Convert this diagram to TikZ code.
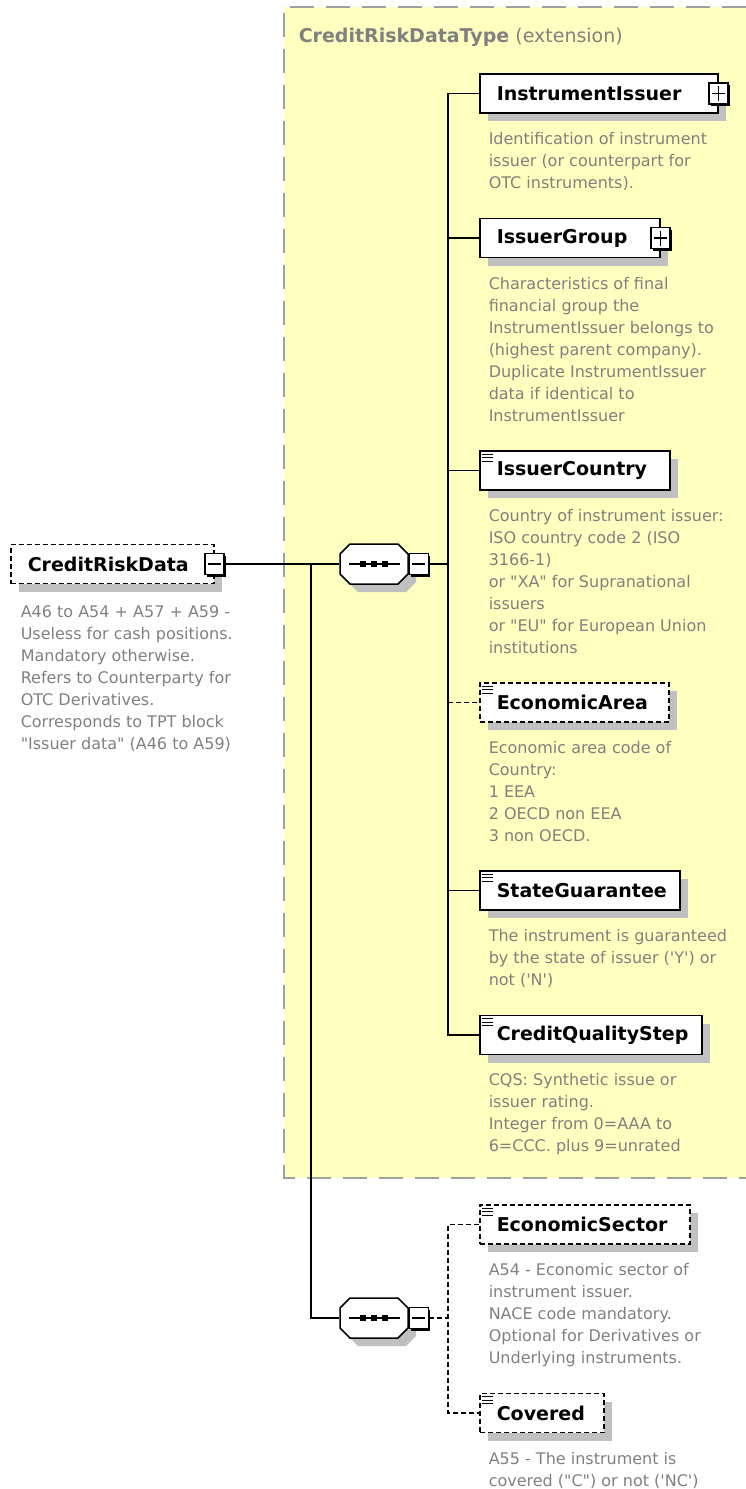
\documentclass[tikz,border=0pt]{standalone}
\usepackage{fontspec}
\setmainfont{DejaVu Sans}
\newfontfamily\descfont{DejaVu Sans}
\usetikzlibrary{positioning,shadows}
\definecolor{extfill}{HTML}{FFFFC0}
\definecolor{extline}{HTML}{A0A0A0}
\definecolor{descgray}{HTML}{808080}
\definecolor{shadowc}{HTML}{C0C0C0}
\newcommand\namefont{\fontsize{19}{22}\selectfont\bfseries}
% sequence compositor: octagon with its shadow, then a named node on top
\newcommand\seqnode[2]{%
  \begin{scope}[shift={#2}]
    \fill[shadowc,shift={(8,8)}] (-24,-20) -- (24,-20) -- (34,-10) -- (34,10) -- (24,20)
      -- (-24,20) -- (-34,10) -- (-34,-10) -- cycle;
    \draw[fill=white] (-24,-20) -- (24,-20) -- (34,-10) -- (34,10) -- (24,20)
      -- (-24,20) -- (-34,10) -- (-34,-10) -- cycle;
    \draw (-25,0) -- (26,0);
    \foreach \dx in {-11,0,11} \fill[black] (\dx-3,-3) rectangle (\dx+3,3);
  \end{scope}
  \node[seqbox] (#1) at #2 {};
}

\begin{document}
\begin{tikzpicture}[x=1pt,y=-1pt,line width=1.5pt,
  shade/.style={drop shadow={shadow xshift=8pt,shadow yshift=-8pt,fill=shadowc,opacity=1,draw=none}},
  el/.style={shade,draw,fill=white,anchor=west,minimum height=39pt,inner xsep=17pt,inner ysep=0pt,
             text width=#1,align=left,font=\namefont},
  optel/.style={el=#1,dash pattern=on 5pt off 3pt},
  simple/.style={path picture={\foreach \k in {3,6.5,10}
      \draw[line width=1pt,solid] ([xshift=2pt,yshift=-\k pt]path picture bounding box.north west) -- ++(11,0);}},
  desc/.style={align=left,inner sep=0pt,text=descgray,font=\descfont\fontsize{16}{22}\selectfont},
  pm/.style={draw,solid,fill=white,line width=1.3pt,minimum width=19pt,minimum height=21pt,inner sep=0pt,
             drop shadow={shadow xshift=2pt,shadow yshift=-2pt,fill=black,opacity=1,draw=none}},
  pmminus/.style={pm,path picture={\draw[line width=1.4pt] ([xshift=3pt]path picture bounding box.west)
      -- ([xshift=-3pt]path picture bounding box.east);}},
  pmplus/.style={pm,path picture={\draw[line width=1.4pt] ([xshift=3pt]path picture bounding box.west)
      -- ([xshift=-3pt]path picture bounding box.east) ([yshift=-3pt]path picture bounding box.north)
      -- ([yshift=3pt]path picture bounding box.south);}},
  seqbox/.style={minimum width=68pt,minimum height=40pt,inner sep=0pt,outer sep=0.75pt},
  opt/.style={dash pattern=on 5pt off 3pt},
]
\useasboundingbox (0,0) rectangle (746,1489);

% extension type box
\fill[extfill] (284,7) rectangle (746,1178);
\draw[extline,line width=2pt,dash pattern=on 24pt off 12pt] (746,7) -- (284,7) -- (284,1178) -- (746,1178);
\node[anchor=west,inner sep=0pt,text=descgray,font=\fontsize{19}{22}\selectfont] (extTitle) at (298,37)
  {\textbf{CreditRiskDataType} (extension)};

% root element
\node[optel=169] (crd) at (10,564) {CreditRiskData};
\node[pmminus] (crdPm) at (crd.east) {};
\node[desc,below right=21pt and 10pt of crd.south west] (crdDesc)
  {A46 to A54 + A57 + A59 -\\Useless for cash positions.\\Mandatory otherwise.\\Refers to Counterparty for\\OTC Derivatives.\\Corresponds to TPT block\\"Issuer data" (A46 to A59)};

% sequences
\seqnode{seqA}{(374,564)}
\node[pmminus,anchor=west] (seqApm) at (seqA.east) {};
\seqnode{seqB}{(374,1318)}
\node[pmminus,anchor=west] (seqBpm) at (seqB.east) {};

% children of the extension
\node[el=204] (iss) at (479,93.5) {InstrumentIssuer};
\node[pmplus] (issPm) at (iss.east) {};
\node[desc,below right=18pt and 9pt of iss.south west] (issDesc)
  {Identification of instrument\\issuer (or counterpart for\\OTC instruments).};

\node[el=146] (grp) at (479,238) {IssuerGroup};
\node[pmplus] (grpPm) at (grp.east) {};
\node[desc,below right=18pt and 9pt of grp.south west] (grpDesc)
  {Characteristics of final\\financial group the\\InstrumentIssuer belongs to\\(highest parent company).\\Duplicate InstrumentIssuer\\data if identical to\\InstrumentIssuer};

\node[el=156,simple] (ctry) at (479,470.5) {IssuerCountry};
\node[desc,below right=18pt and 9pt of ctry.south west] (ctryDesc)
  {Country of instrument issuer:\\ISO country code 2 (ISO\\3166-1)\\or "XA" for Supranational\\issuers\\or "EU" for European Union\\institutions};

\node[optel=155,simple] (area) at (479,702.5) {EconomicArea};
\node[desc,below right=18pt and 9pt of area.south west] (areaDesc)
  {Economic area code of\\Country:\\1 EEA\\2 OECD non EEA\\3 non OECD.};

\node[el=166,simple] (sg) at (479,890.5) {StateGuarantee};
\node[desc,below right=18pt and 9pt of sg.south west] (sgDesc)
  {The instrument is guaranteed\\by the state of issuer ('Y') or\\not ('N')};

\node[el=188,simple] (cqs) at (479,1035) {CreditQualityStep};
\node[desc,below right=17pt and 9pt of cqs.south west] (cqsDesc)
  {CQS: Synthetic issue or\\issuer rating.\\Integer from 0=AAA to\\6=CCC. plus 9=unrated};

% second sequence children
\node[optel=176,simple] (sect) at (479,1224.5) {EconomicSector};
\node[desc,below right=18pt and 9pt of sect.south west] (sectDesc)
  {A54 - Economic sector of\\instrument issuer.\\NACE code mandatory.\\Optional for Derivatives or\\Underlying instruments.};

\node[optel=90,simple] (cov) at (479,1413) {Covered};
\node[desc,below right=18pt and 9pt of cov.south west] (covDesc)
  {A55 - The instrument is\\covered ("C") or not ('NC')};

% connectors
\coordinate (forkA) at (311,564);
\coordinate (busA) at (448,564);
\coordinate (busB) at (448,1318);
\draw (crdPm) -- (seqA);
\draw (forkA) |- (seqB);
\draw (seqApm) -- (busA);
\draw (iss) -| (busA |- cqs.west) -- (cqs);
\foreach \n in {grp,ctry,sg} \draw (busA |- \n.west) -- (\n);
\draw[opt] (busA |- area.west) -- (area);
\draw[opt] (seqBpm) -- (busB);
\draw[opt] (sect) -| (busB |- cov.west) -- (cov);
\end{tikzpicture}
\end{document}
